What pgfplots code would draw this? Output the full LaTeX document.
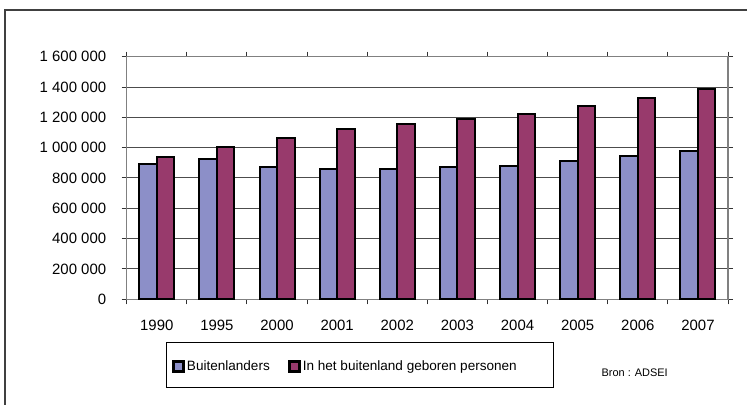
\documentclass[border=0pt]{standalone}
\usepackage{pgfplots}
\pgfplotsset{compat=1.18}
\usepackage{fontspec}
\setmainfont{Liberation Sans}
\definecolor{bblue}{RGB}{140,143,200}
\definecolor{bmaroon}{RGB}{152,58,108}
\begin{document}
\begin{tikzpicture}
\useasboundingbox (0,0) rectangle (747bp,405bp);
\draw[line width=1.3bp, color=black!75] (5bp,-5bp) -- (5bp,395bp) -- (760bp,395bp);
\begin{axis}[
  at={(126.7bp,105.7bp)}, anchor=south west,
  scale only axis, width=601.3bp, height=242.6bp,
  ymin=0, ymax=1600000, scaled y ticks=false,
  ytick={0,200000,400000,600000,800000,1000000,1200000,1400000,1600000},
  yticklabels={0,200 000,400 000,600 000,800 000,1 000 000,1 200 000,1 400 000,1 600 000},
  xmin=-0.5, xmax=9.5,
  xtick={-0.5,0.5,1.5,2.5,3.5,4.5,5.5,6.5,7.5,8.5,9.5},
  x tick label as interval,
  xticklabels={1990,1995,2000,2001,2002,2003,2004,2005,2006,2007},
  tick align=outside, major tick length=5bp,
  tick style={black!80, line width=1bp},
  axis line style={black!50, line width=1.3bp},
  ymajorgrids, major grid style={black!70, line width=1bp},
  tick label style={font=\fontsize{15}{17}\selectfont},
  yticklabel style={xshift=-12bp},
  xticklabel style={yshift=-12bp},
  ybar=0pt, bar width=17.5bp,
  legend style={at={(axis description cs:0.07,-0.275)}, anchor=west, draw=none, fill=none,
    font=\fontsize{13.6}{15}\selectfont, legend columns=2,
    /tikz/every even column/.append style={column sep=16bp}},
  legend image code/.code={\draw[#1,draw=black,line width=3bp] (0bp,-5bp) rectangle (10bp,5bp);},
]
\addplot[fill=bblue, draw=black, line width=2bp] coordinates {
(0,892000) (1,927000) (2,872000) (3,859000) (4,859000) (5,870000) (6,880000) (7,909000) (8,943000) (9,976000)};
\addplot[fill=bmaroon, draw=black, line width=2bp] coordinates {
(0,938000) (1,1007000) (2,1066000) (3,1121000) (4,1156000) (5,1191000) (6,1224000) (7,1276000) (8,1329000) (9,1387000)};
\legend{Buitenlanders, In het buitenland geboren personen}
\end{axis}
\draw[line width=1bp] (166.7bp,17bp) rectangle (553bp,62bp);
\node[font=\fontsize{11}{13}\selectfont] at (634.7bp,32.7bp) {Bron : ADSEI};
\end{tikzpicture}
\end{document}
